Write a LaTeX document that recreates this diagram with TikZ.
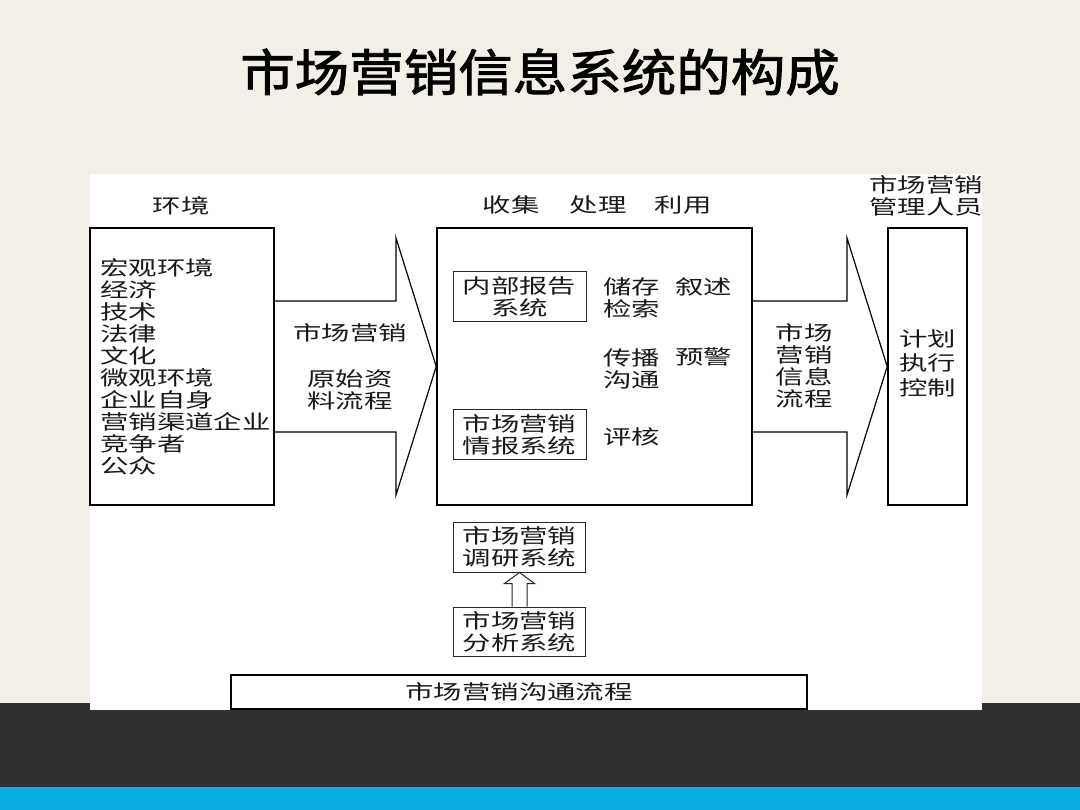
\documentclass[tikz,border=0pt]{standalone}
\usepackage{fontspec}
\newfontfamily\cjk[FakeStretch=1.42]{Noto Sans CJK SC}
\newfontfamily\cjkt[FakeStretch=1.09,FakeBold=1.8]{Noto Sans CJK SC}
\definecolor{bgtop}{HTML}{F2EFE7}
\definecolor{darkband}{HTML}{333033}
\definecolor{blueband}{HTML}{0AADE2}
\definecolor{ink}{HTML}{1A1A1A}
\tikzset{
  txt/.style={inner sep=0pt, text=ink, font=\cjk\fontsize{20}{22}\selectfont},
  bigbox/.style={draw=black, line width=1.6pt, fill=white, inner sep=0pt},
  smallbox/.style={draw=black!85, line width=1pt, inner sep=0pt, align=center, text=ink, font=\cjk\fontsize{20}{22}\selectfont},
  blockarrow/.style={draw=black, line width=1.2pt, line join=miter},
}
\begin{document}
\begin{tikzpicture}[x=1pt,y=-1pt]
\useasboundingbox (0,0) rectangle (1080,810);
% background
\fill[bgtop] (0,0) rectangle (1080,703);
\fill[darkband] (0,703) rectangle (1080,787);
\fill[blueband] (0,787) rectangle (1080,810);
\fill[white] (90,174) rectangle (982,710);
% title
\node[inner sep=0pt, text=black, font=\cjkt\fontsize{50}{56}\selectfont] (title) at (540,72) {市场营销信息系统的构成};
% main boxes
\node[bigbox, minimum width=184, minimum height=277] (env) at (182,366.5) {};
\node[bigbox, minimum width=315, minimum height=277] (core) at (594.5,366.5) {};
\node[bigbox, minimum width=79, minimum height=277] (mgr) at (927.5,366.5) {};
% headers
\node[txt] (henv) at (181,206) {环境};
\node[txt] (hcollect) at (511,205) {收集};
\node[txt] (hprocess) at (598,205) {处理};
\node[txt] (huse) at (683,205) {利用};
\node[txt, align=center] (hmgr) at (926,196) {市场营销\\管理人员};
% environment list
\node[txt, align=left, anchor=west] (envlist) at (100,366.5) {宏观环境\\经济\\技术\\法律\\文化\\微观环境\\企业自身\\营销渠道企业\\竞争者\\公众};
% arrows
\draw[blockarrow] (env.east |- 0,301) -- (396,301) -- (396,238) -- (core.west) -- (396,495) -- (396,432) -- (env.east |- 0,432);
\draw[blockarrow] (core.east |- 0,301) -- (847,301) -- (847,238) -- (mgr.west) -- (847,495) -- (847,432) -- (core.east |- 0,432);
\node[txt] (a1top) at (350,333) {市场营销};
\node[txt, align=center] (a1bot) at (350,390) {原始资\\料流程};
\node[txt, align=center] (a2) at (804,366) {市场\\营销\\信息\\流程};
% manager text
\node[txt, align=center, font=\cjk\fontsize{20}{24.5}\selectfont] (mgrtext) at (927.5,363) {计划\\执行\\控制};
% core contents
\node[smallbox, minimum width=133, minimum height=50] (internal) at (519.5,297) {内部报告\\系统};
\node[smallbox, minimum width=133, minimum height=50] (intel) at (519.5,435) {市场营销\\情报系统};
\node[txt, align=left, anchor=west] (store) at (603,297.5) {储存\\检索};
\node[txt, anchor=west] (narrate) at (675,287) {叙述};
\node[txt, align=left, anchor=west] (spread) at (603,368.5) {传播\\沟通};
\node[txt, anchor=west] (warn) at (675,357) {预警};
\node[txt, anchor=west] (assess) at (603,437) {评核};
% lower boxes
\node[smallbox, minimum width=132, minimum height=50] (research) at (519.5,547) {市场营销\\调研系统};
\node[smallbox, minimum width=132, minimum height=49] (analysis) at (519.5,631.5) {市场营销\\分析系统};
\draw[line width=1pt, draw=black!85, line join=miter] ([xshift=-7.5pt]analysis.north) |- ([xshift=-15pt,yshift=-11pt]research.south) -- (research.south) -- ([xshift=15pt,yshift=-11pt]research.south) -| ([xshift=7.5pt]analysis.north);
\node[smallbox, line width=1.3pt, draw=black, minimum width=576, minimum height=34] (comm) at (519,692) {市场营销沟通流程};
\end{tikzpicture}
\end{document}
